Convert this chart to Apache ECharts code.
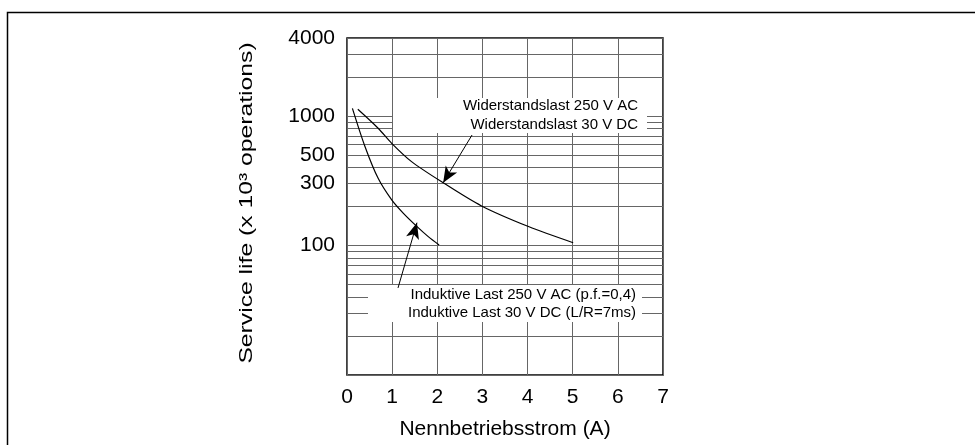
<!DOCTYPE html>
<html>
<head>
<meta charset="utf-8">
<title>Service life</title>
<script src="https://cdn.jsdelivr.net/npm/echarts@6/dist/echarts.min.js"></script>
<style>
	html, body { margin: 0; padding: 0; background: #fff; }
	#chart { width: 975px; height: 445px; }
</style>
</head>
<body>
<div id="chart"></div>
<script>
// x axis ticks (A)
var xTicks = [0, 1, 2, 3, 4, 5, 6, 7];

// y axis: labelled values and all grid lines (x 10^3 operations)
var yLabels = [100, 300, 500, 1000, 4000];
var yGrid = [10, 20, 30, 40, 50, 60, 70, 80, 90,
	100, 200, 300, 400, 500, 600, 700, 800, 900,
	1000, 2000, 3000, 4000];

// Induktive Last curve
var induktivX = [0.12, 0.4, 0.69, 0.99, 1.25, 1.54, 1.8, 2.04];
var induktivY = [1146, 579, 330, 225, 177, 141, 117, 101];

// Widerstandslast curve
var widerX = [0.24, 0.69, 0.99, 1.43, 2.13, 2.98, 4.02, 5.01];
var widerY = [1127, 804, 615, 444, 305, 202, 140, 105];

// arrows: [from, to] in data coords
var widerArrow = [[2.77, 713], [2.13, 305]];
var induktivArrow = [[1.13, 47], [1.55, 150]];

var font = "'Liberation Sans', Arial, Helvetica, sans-serif";

function pairs(xs, ys) {
	return xs.map(function (x, i) { return [x, ys[i]]; });
}

function arrowLine(a) {
	return {
		silent: true,
		symbol: ['none', 'arrow'],
		symbolSize: [10, 16],
		label: { show: false },
		lineStyle: { color: '#000', width: 1, type: 'solid' },
		data: [[{ coord: a[0] }, { coord: a[1] }]]
	};
}

var chart = echarts.init(document.getElementById('chart'));

chart.setOption({
	animation: false,
	textStyle: { fontFamily: font },
	grid: {
		left: 347,
		right: 312,
		top: 38,
		bottom: 70,
		show: true,
		borderColor: '#000',
		borderWidth: 1.5,
		backgroundColor: 'transparent'
	},
	xAxis: {
		type: 'value',
		min: xTicks[0],
		max: xTicks[xTicks.length - 1],
		interval: 1,
		name: 'Nennbetriebsstrom (A)',
		nameLocation: 'middle',
		nameGap: 44,
		nameTextStyle: { fontSize: 21, color: '#000' },
		axisLine: { show: false },
		axisTick: { show: false },
		axisLabel: { fontSize: 21, color: '#000', margin: 12 },
		splitLine: { show: true, lineStyle: { color: '#666', width: 1 } }
	},
	yAxis: {
		type: 'log',
		logBase: 10,
		min: 10,
		max: 4000,
		axisLine: { show: false },
		axisTick: { show: false, customValues: yGrid },
		axisLabel: {
			fontSize: 21,
			color: '#000',
			margin: 12,
			customValues: yLabels,
			formatter: function (v) { return String(Math.round(v)); }
		},
		splitLine: { show: true, lineStyle: { color: '#666', width: 1 } }
	},
	graphic: [
		// outer frame (only top and left edges are in view)
		{
			type: 'rect',
			z: 0,
			shape: { x: 7.5, y: 12.5, width: 1100, height: 600 },
			style: { fill: 'none', stroke: '#000', lineWidth: 1.5 }
		},
		// white boxes behind the annotations
		{
			type: 'rect',
			z: 1,
			shape: { x: 393, y: 98, width: 254, height: 35 },
			style: { fill: '#fff' }
		},
		{
			type: 'rect',
			z: 1,
			shape: { x: 368, y: 285, width: 274, height: 37 },
			style: { fill: '#fff' }
		},
		{
			type: 'text',
			z: 3,
			x: 638,
			y: 106,
			style: { text: 'Widerstandslast 250 V AC', fontSize: 15, fontFamily: font, fill: '#000', align: 'right', verticalAlign: 'middle' }
		},
		{
			type: 'text',
			z: 3,
			x: 638,
			y: 125,
			style: { text: 'Widerstandslast 30 V DC', fontSize: 15, fontFamily: font, fill: '#000', align: 'right', verticalAlign: 'middle' }
		},
		{
			type: 'text',
			z: 3,
			x: 636,
			y: 295,
			style: { text: 'Induktive Last 250 V AC (p.f.=0,4)', fontSize: 15, fontFamily: font, fill: '#000', align: 'right', verticalAlign: 'middle' }
		},
		{
			type: 'text',
			z: 3,
			x: 636,
			y: 313,
			style: { text: 'Induktive Last 30 V DC (L/R=7ms)', fontSize: 15, fontFamily: font, fill: '#000', align: 'right', verticalAlign: 'middle' }
		},
		// y axis title, stretched along the text like the original
		{
			type: 'text',
			z: 3,
			x: 247,
			y: 203,
			rotation: Math.PI / 2,
			scaleX: 1.3,
			style: { text: 'Service life (x 10³ operations)', fontSize: 19, fontFamily: font, fill: '#000', align: 'center', verticalAlign: 'middle' }
		}
	],
	series: [{
		name: 'Widerstandslast',
		type: 'line',
		smooth: 0.3,
		symbol: 'none',
		lineStyle: { color: '#000', width: 1.2 },
		data: pairs(widerX, widerY),
		markLine: arrowLine(widerArrow)
	}, {
		name: 'Induktive Last',
		type: 'line',
		smooth: 0.3,
		symbol: 'none',
		lineStyle: { color: '#000', width: 1.2 },
		data: pairs(induktivX, induktivY),
		markLine: arrowLine(induktivArrow)
	}]
});
</script>
</body>
</html>
